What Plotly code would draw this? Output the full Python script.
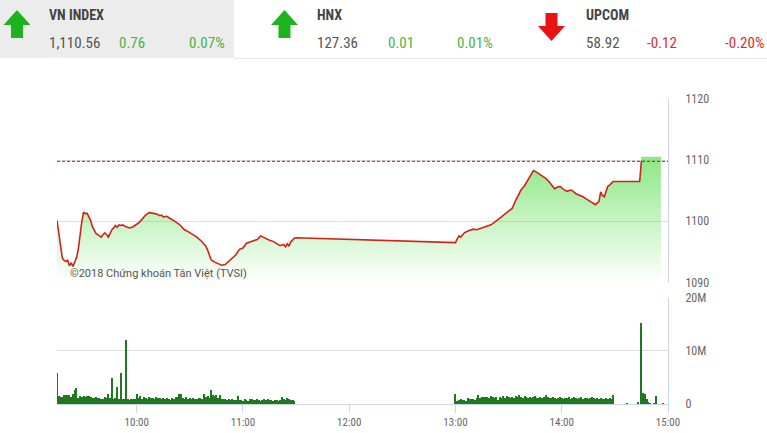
import plotly.graph_objects as go
import pandas as pd

DAY = "2018-10-19"

# ---------------- data ----------------
price_times = [
    "09:15", "09:16", "09:17", "09:18", "09:19", "09:20", "09:21", "09:22", "09:23", "09:24",
    "09:25", "09:26", "09:27", "09:28", "09:29", "09:30", "09:31", "09:32", "09:33", "09:34",
    "09:35", "09:36", "09:37", "09:38", "09:39", "09:40", "09:41", "09:42", "09:43", "09:44",
    "09:45", "09:46", "09:47", "09:48", "09:49", "09:50", "09:51", "09:52", "09:54", "09:56",
    "09:58", "10:00", "10:01", "10:03", "10:05", "10:07", "10:09", "10:11", "10:13", "10:14",
    "10:15", "10:17", "10:18", "10:20", "10:22", "10:24", "10:26", "10:27", "10:29", "10:32",
    "10:34", "10:37", "10:39", "10:40", "10:42", "10:44", "10:46", "10:48", "10:50", "10:52",
    "10:54", "10:56", "10:58", "11:00", "11:02", "11:04", "11:06", "11:08", "11:10", "11:12",
    "11:15", "11:17", "11:19", "11:21", "11:23", "11:24", "11:25", "11:26", "11:27", "11:29",
    "11:30",
    "13:00", "13:01", "13:02", "13:03", "13:05", "13:07", "13:10", "13:12", "13:14", "13:16",
    "13:18", "13:20", "13:22", "13:24", "13:26", "13:28", "13:30", "13:32", "13:34", "13:35",
    "13:37", "13:39", "13:40", "13:42", "13:44", "13:46", "13:48", "13:50", "13:51", "13:53",
    "13:55", "13:56", "13:57", "13:59", "14:01", "14:03", "14:05", "14:06", "14:08", "14:10",
    "14:12", "14:14", "14:16", "14:18", "14:19", "14:20", "14:21", "14:22", "14:23", "14:24",
    "14:26", "14:27", "14:29", "14:44", "14:45",
]
price_values = [
    1100.1, 1098.0, 1095.5, 1094.0, 1093.6, 1093.4, 1093.6, 1092.7, 1093.2, 1092.6,
    1093.3, 1094.0, 1095.4, 1097.8, 1099.9, 1101.5, 1101.2, 1101.3, 1100.7, 1100.1,
    1099.1, 1098.5, 1098.0, 1097.8, 1097.6, 1097.4, 1097.8, 1098.1, 1097.8, 1097.4,
    1098.0, 1098.6, 1098.9, 1099.3, 1099.0, 1099.4, 1099.3, 1099.4, 1099.1, 1098.9,
    1099.1, 1099.5, 1099.7, 1100.3, 1101.0, 1101.4, 1101.3, 1101.2, 1100.9, 1101.0,
    1100.7, 1100.8, 1100.6, 1100.3, 1099.9, 1099.5, 1099.0, 1098.6, 1098.3, 1097.7,
    1097.4, 1096.6, 1095.9, 1095.3, 1093.7, 1093.3, 1093.0, 1092.8, 1092.9, 1093.4,
    1093.9, 1094.5, 1095.4, 1095.6, 1096.4, 1096.6, 1096.8, 1097.0, 1097.6, 1097.3,
    1096.9, 1096.7, 1096.4, 1096.0, 1096.2, 1095.8, 1096.3, 1095.9, 1096.6, 1097.2,
    1097.3,
    1096.5, 1097.1, 1097.6, 1097.4, 1098.1, 1098.4, 1098.7, 1098.6, 1098.8, 1098.9,
    1099.2, 1099.4, 1099.8, 1100.2, 1100.7, 1101.2, 1101.6, 1102.1, 1103.4, 1104.0,
    1105.1, 1105.8, 1106.3, 1107.4, 1108.3, 1108.0, 1107.6, 1107.3, 1107.0, 1106.4,
    1105.7, 1105.3, 1105.5, 1105.7, 1105.2, 1104.9, 1105.1, 1105.0, 1104.5, 1104.3,
    1104.0, 1103.6, 1103.3, 1102.9, 1102.7, 1103.0, 1103.2, 1104.8, 1104.2, 1104.0,
    1105.7, 1105.9, 1106.5, 1106.5, 1109.9,
]
close_time = "14:45"
close_value = 1110.56
put_through_end = "14:56"
prev_close = 1109.80

# volume (millions), one bar per minute
morning_start = "09:15"
morning_volume = [
    5.9, 1.6, 1.5, 1.5, 1.7, 1.8, 1.8, 1.7, 1.5, 1.9,
    2.8, 3.1, 1.2, 1.6, 1.5, 1.6, 1.4, 1.6, 1.6, 1.5,
    1.2, 1.3, 1.5, 1.3, 1.2, 1.0, 1.1, 1.4, 1.3, 1.9,
    1.2, 4.9, 1.0, 1.3, 3.3, 1.1, 5.9, 1.0, 1.1, 12.2,
    1.0, 0.9, 1.0, 1.0, 1.1, 1.9, 1.2, 1.6, 1.0, 1.4,
    1.3, 1.1, 1.5, 1.2, 1.3, 1.1, 1.4, 1.2, 1.3, 1.0,
    1.2, 1.1, 1.3, 1.0, 0.9, 1.2, 1.0, 1.4, 1.5, 2.0,
    2.0, 1.2, 1.0, 1.4, 1.1, 1.2, 1.0, 1.3, 1.1, 1.0,
    1.2, 1.3, 1.1, 2.0, 1.4, 1.6, 1.3, 2.7, 1.8, 1.6,
    1.8, 1.3, 1.7, 1.1, 1.0, 1.0, 0.9, 1.0, 0.8, 1.1,
    0.9, 0.8, 1.6, 0.8, 0.9, 0.7, 1.0, 0.8, 0.7, 1.1,
    1.0, 0.8, 0.9, 1.0, 0.8, 0.7, 0.9, 1.0, 0.8, 1.1,
    0.9, 0.8, 0.7, 0.9, 0.8, 0.7, 0.9, 1.4, 1.0, 0.9,
    1.2, 1.0, 0.8, 0.9, 0.6,
]
afternoon_start = "13:00"
afternoon_volume = [
    1.9, 0.7, 0.9, 1.1, 0.8, 0.9, 0.7, 1.2, 1.1, 1.1,
    1.0, 0.9, 1.2, 1.7, 1.2, 1.4, 1.5, 1.4, 1.4, 1.2,
    1.6, 1.5, 1.2, 1.4, 0.9, 1.5, 1.3, 1.6, 1.3, 1.6,
    1.4, 1.2, 1.5, 1.3, 1.6, 1.5, 1.7, 1.4, 1.3, 1.6,
    1.5, 1.3, 1.4, 1.2, 1.5, 1.6, 1.3, 1.2, 1.4, 1.3,
    1.5, 1.7, 1.4, 1.2, 1.3, 1.5, 1.2, 1.1, 1.3, 1.4,
    1.2, 1.0, 1.3, 1.2, 1.4, 1.1, 1.3, 1.5, 1.2, 1.0,
    1.2, 1.4, 1.1, 1.3, 1.2, 1.0, 1.3, 1.4, 1.2, 1.1,
    1.3, 1.0, 1.2, 1.1, 1.0, 1.2, 1.1, 1.3, 1.1, 1.7,
]
late_times = ["14:37", "14:43", "14:45", "14:46", "14:47", "14:48", "14:49", "14:50", "14:52", "14:53", "14:57"]
late_volume = [0.2, 0.5, 15.3, 2.1, 2.0, 1.1, 0.4, 0.3, 0.3, 1.6, 0.2]

hour_ticks = ["10:00", "11:00", "12:00", "13:00", "14:00", "15:00"]
price_ticks = [1090, 1100, 1110, 1120]
volume_ticks = [0, 10, 20]
volume_ticktext = ["0", "10M", "20M"]

header = [
    # name, value, change, pct, direction
    ("VN INDEX", "1,110.56", "0.76", "0.07%", "up"),
    ("HNX", "127.36", "0.01", "0.01%", "up"),
    ("UPCOM", "58.92", "-0.12", "-0.20%", "down"),
]
watermark = "©2018 Chứng khoán Tân Việt (TVSI)"

# ---------------- layout helpers ----------------
W, H = 767, 433
L, R, T, B = 57, 99, 99, 29
PW, PH = W - L - R, H - T - B


def fx(px):
    return (px - L) / PW


def fy(py):
    return (H - B - py) / PH


def ts(t):
    return f"{DAY} {t}"


NARROW = "Liberation Sans Narrow, Arial Narrow, Roboto Condensed, DejaVu Sans Condensed, sans-serif"
GREEN_TXT = "#45b545"
RED_TXT = "#d42d2d"
GRID = "#dedede"
AXLINE = "#ccd6eb"

price_x = [ts(t) for t in price_times]
fill_x = price_x + [ts(close_time), ts(put_through_end)]
fill_y = price_values + [close_value, close_value]

m_times = pd.date_range(ts(morning_start), periods=len(morning_volume), freq="min")
a_times = pd.date_range(ts(afternoon_start), periods=len(afternoon_volume), freq="min")
vol_x = list(m_times) + list(a_times) + [pd.Timestamp(ts(t)) for t in late_times]
vol_y = morning_volume + afternoon_volume + late_volume

fig = go.Figure()

fig.add_trace(go.Scatter(
    x=fill_x, y=fill_y, mode="lines", line=dict(width=0, color="rgba(0,0,0,0)"),
    fill="tozeroy",
    fillgradient=dict(type="vertical", start=1090, stop=1111,
                      colorscale=[[0, "rgba(110,225,100,0)"], [1, "rgba(110,225,100,0.8)"]]),
    hoverinfo="skip", xaxis="x", yaxis="y", showlegend=False,
))
fig.add_trace(go.Scatter(
    x=price_x, y=price_values, mode="lines",
    line=dict(color="#d02418", width=1.6),
    xaxis="x", yaxis="y", showlegend=False,
))
fig.add_trace(go.Bar(
    x=vol_x, y=vol_y, width=36000, marker=dict(color="#1f7a1f", line=dict(width=0)),
    xaxis="x2", yaxis="y2", showlegend=False,
))

xr = [ts("09:15"), ts("15:00")]
fig.update_layout(
    template="none",
    width=W, height=H,
    margin=dict(l=L, r=R, t=T, b=B, autoexpand=False),
    paper_bgcolor="white", plot_bgcolor="white",
    bargap=0,
    xaxis=dict(domain=[0, 1], anchor="y", range=xr, type="date", automargin=False,
               showticklabels=False, showgrid=False, zeroline=False, showline=False, ticks=""),
    yaxis=dict(domain=[fy(282.3), 1], anchor="x", side="right", range=[1090, 1120], automargin=False,
               tickvals=price_ticks, showgrid=True, gridcolor=GRID, gridwidth=1,
               zeroline=False, showline=True, linecolor=AXLINE, linewidth=1, ticks="",
               ticklabelstandoff=14,
               tickfont=dict(family=NARROW, size=12, color="#666666")),
    xaxis2=dict(domain=[0, 1], anchor="y2", range=xr, type="date", matches="x", automargin=False,
                tickvals=[ts(t) for t in hour_ticks], tickformat="%H:%M",
                showgrid=False, zeroline=False, showline=True, linecolor=AXLINE, linewidth=1,
                ticks="outside", ticklen=8, tickcolor=AXLINE, tickwidth=1,
                tickfont=dict(family=NARROW, size=11, color="#666666")),
    yaxis2=dict(domain=[0, fy(297.5)], anchor="x2", side="right", range=[0, 20], automargin=False,
                tickvals=volume_ticks, ticktext=volume_ticktext,
                showgrid=True, gridcolor=GRID, gridwidth=1, zeroline=False,
                showline=True, linecolor=AXLINE, linewidth=1, ticks="",
                ticklabelstandoff=14,
                tickfont=dict(family=NARROW, size=12, color="#666666")),
)

shapes = [
    # previous close reference line
    dict(type="line", xref="x domain", yref="y", x0=0, x1=1, y0=prev_close, y1=prev_close,
         line=dict(color="#a81c1c", width=1, dash="3px,2px"), layer="above"),
    # header background (left block) and separator
    dict(type="rect", xref="paper", yref="paper", x0=fx(0), x1=fx(234), y0=fy(58), y1=fy(0),
         fillcolor="#ececec", line=dict(width=0), layer="below"),
    dict(type="line", xref="paper", yref="paper", x0=fx(234), x1=fx(767), y0=fy(58.5), y1=fy(58.5),
         line=dict(color="#e6e6e6", width=1)),
]

name_x = [47, 315, 584]
arrow_cx = [17, 284.5, 551.5]
val_x = [[47, 117, 187], [315, 386, 455], [584, 645, 723]]
for i, (name, val, chg, pct, direction) in enumerate(header):
    cx = arrow_cx[i]
    if direction == "up":
        pts = [(cx, 10), (cx + 13.5, 25), (cx + 6, 25), (cx + 6, 38), (cx - 6, 38), (cx - 6, 25), (cx - 13.5, 25)]
        col = "#1db31d"
    else:
        pts = [(cx, 41), (cx + 13.5, 26), (cx + 6, 26), (cx + 6, 13), (cx - 6, 13), (cx - 6, 26), (cx - 13.5, 26)]
        col = "#e81414"
    path = "M " + " L ".join(f"{fx(a):.5f},{fy(b):.5f}" for a, b in pts) + " Z"
    shapes.append(dict(type="path", xref="paper", yref="paper", path=path,
                       fillcolor=col, line=dict(width=0)))

fig.update_layout(shapes=shapes)

ann = []
for i, (name, val, chg, pct, direction) in enumerate(header):
    ccol = GREEN_TXT if direction == "up" else RED_TXT
    ann.append(dict(text=f"<b>{name}</b>", x=fx(name_x[i]), y=fy(15), xref="paper", yref="paper",
                    xanchor="left", yanchor="middle", showarrow=False,
                    font=dict(family=NARROW, size=14, color="#444444")))
    for j, (txt, c) in enumerate([(val, "#555555"), (chg, ccol), (pct, ccol)]):
        ann.append(dict(text=txt, x=fx(val_x[i][j]), y=fy(43), xref="paper", yref="paper",
                        xanchor="left", yanchor="middle", showarrow=False,
                        font=dict(family=NARROW, size=15, color=c)))
ann.append(dict(text=watermark, x=fx(68), y=fy(273), xref="paper", yref="paper",
                xanchor="left", yanchor="middle", showarrow=False,
                font=dict(family="Roboto, Arial, sans-serif", size=11, color="#555555")))
fig.update_layout(annotations=ann)

fig.write_html("out.html", config={"displayModeBar": False},
               post_script="document.body.style.margin='0px';document.body.style.padding='0px';")
